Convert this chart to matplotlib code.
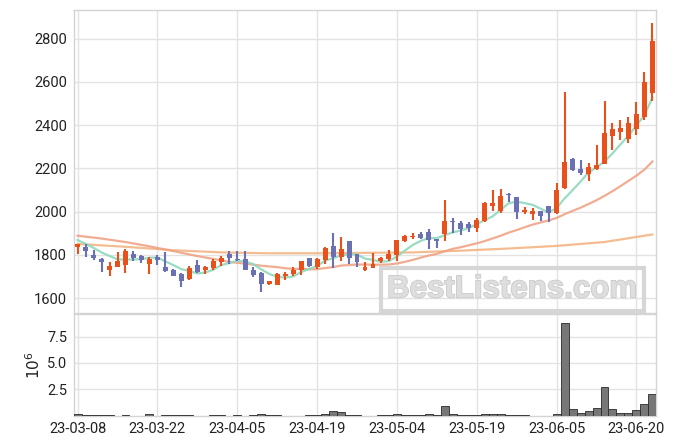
import matplotlib
matplotlib.use("Agg")
import matplotlib.pyplot as plt
import matplotlib.patheffects as pe
import numpy as np
import pandas as pd

# ---- data ----
opens = [1838, 1837, 1800, 1783, 1732, 1746, 1755, 1805, 1794, 1759,
         1792, 1745, 1731, 1712, 1691, 1754, 1732, 1742, 1769, 1805,
         1782, 1782, 1732, 1717, 1668, 1662, 1703, 1711, 1732, 1786,
         1746, 1778, 1842, 1790, 1865, 1803, 1731, 1740, 1772, 1782,
         1802, 1866, 1882, 1896, 1906, 1874, 1896, 1956, 1949, 1943,
         1926, 1958, 2028, 2003, 2083, 2068, 1999, 1988, 2003, 2026,
         1993, 2108, 2243, 2197, 2175, 2198, 2222, 2351, 2369, 2334,
         2383, 2438, 2549]
highs = [1853, 1850, 1823, 1788, 1769, 1815, 1828, 1818, 1800, 1792,
         1800, 1815, 1737, 1718, 1748, 1776, 1747, 1780, 1794, 1818,
         1818, 1818, 1743, 1720, 1682, 1716, 1722, 1743, 1773, 1788,
         1786, 1837, 1900, 1885, 1866, 1805, 1769, 1811, 1791, 1822,
         1870, 1892, 1900, 1905, 1922, 1876, 2054, 1969, 1955, 1953,
         1972, 2045, 2100, 2103, 2088, 2070, 2023, 2016, 2005, 2028,
         2131, 2551, 2248, 2237, 2223, 2306, 2511, 2411, 2426, 2438,
         2508, 2646, 2874]
lows = [1803, 1790, 1778, 1722, 1705, 1745, 1716, 1772, 1763, 1711,
        1754, 1723, 1703, 1654, 1685, 1718, 1711, 1731, 1749, 1759,
        1772, 1729, 1697, 1631, 1662, 1660, 1685, 1705, 1708, 1746,
        1734, 1760, 1739, 1774, 1757, 1743, 1728, 1738, 1762, 1772,
        1772, 1862, 1873, 1874, 1827, 1834, 1865, 1900, 1892, 1905,
        1908, 1954, 2003, 1992, 2043, 1965, 1988, 1960, 1956, 1954,
        1990, 2105, 2186, 2171, 2140, 2195, 2220, 2285, 2331, 2318,
        2354, 2426, 2511]
closes = [1851, 1820, 1788, 1769, 1749, 1772, 1818, 1788, 1776, 1783,
          1778, 1726, 1705, 1681, 1740, 1723, 1745, 1772, 1786, 1786,
          1778, 1730, 1707, 1668, 1680, 1711, 1712, 1732, 1772, 1749,
          1783, 1832, 1792, 1828, 1788, 1766, 1745, 1759, 1785, 1805,
          1869, 1886, 1888, 1880, 1869, 1866, 1957, 1951, 1922, 1926,
          1962, 2042, 2042, 2072, 2077, 1999, 2008, 2003, 1982, 1993,
          2100, 2229, 2194, 2180, 2206, 2216, 2363, 2382, 2388, 2409,
          2451, 2600, 2788]
volumes = [0.16, 0.06, 0.06, 0.06, 0.06, 0.0, 0.06, 0.0, 0.0, 0.16,
           0.0, 0.06, 0.06, 0.06, 0.06, 0.0, 0.0, 0.06, 0.06, 0.0,
           0.06, 0.0, 0.06, 0.16, 0.06, 0.06, 0.0, 0.0, 0.0, 0.06,
           0.06, 0.16, 0.38, 0.29, 0.06, 0.06, 0.0, 0.0, 0.06, 0.06,
           0.16, 0.06, 0.06, 0.06, 0.16, 0.06, 0.92, 0.16, 0.06, 0.06,
           0.06, 0.16, 0.16, 0.16, 0.06, 0.06, 0.06, 0.0, 0.0, 0.0,
           0.16, 8.76, 0.57, 0.25, 0.38, 0.73, 2.68, 0.57, 0.25, 0.25,
           0.48, 1.11, 2.07]
date_labels = ['23-03-08', '23-03-22', '23-04-05', '23-04-19',
               '23-05-04', '23-05-19', '23-06-05', '23-06-20']
# moving-average values before enough history exists
ma5_head = [1869, 1852, 1833, 1812]
ma20_head_idx = [0, 3, 6, 9, 12, 15, 18]
ma20_head = [1889, 1876, 1860, 1840, 1818, 1795, 1775]
# slow moving average line
ma_long_idx = [0, 6, 12, 18, 24, 30, 36, 42, 48, 54, 60, 66, 72]
ma_long = [1851, 1838, 1822, 1812, 1808, 1808, 1810, 1812, 1820, 1830,
           1842, 1860, 1895]

UP = '#e8501c'
DOWN = '#6b70b3'
GRID = '#e3e3e3'
SPINE = '#d4d4d4'

plt.rcParams['font.family'] = ['Roboto', 'DejaVu Sans']

n = len(closes)
x = np.arange(n)
o = np.array(opens, float); c = np.array(closes, float)
h = np.array(highs, float); l = np.array(lows, float)
up = c >= o

W, H = 675, 444
fig = plt.figure(figsize=(W / 100, H / 100), dpi=100)
ax = fig.add_axes([74 / W, (H - 313) / H, (656 - 74) / W, (313 - 10) / H])
axv = fig.add_axes([74 / W, (H - 415.5) / H, (656 - 74) / W, (415.5 - 314) / H], sharex=ax)

for a in (ax, axv):
    a.set_facecolor('white')
    a.grid(True, color=GRID, linewidth=1.0)
    a.set_axisbelow(True)
    for s in a.spines.values():
        s.set_color(SPINE)
        s.set_linewidth(1.0)
    a.tick_params(length=0, labelsize=10.5, colors='#222222', pad=5)

# moving averages
s = pd.Series(c)
ma5 = s.rolling(5).mean().to_numpy()
ma5[:4] = ma5_head
ma20 = s.rolling(20).mean()
ma20_x = list(ma20_head_idx) + list(range(19, n))
ma20_y = list(ma20_head) + list(ma20.iloc[19:])
ax.plot(ma_long_idx, ma_long, color='#f2b27e', lw=1.6, alpha=0.85, zorder=2)
ax.plot(ma20_x, ma20_y, color='#ef9f7f', lw=1.6, alpha=0.85, zorder=2)
ax.plot(x, ma5, color='#8fd9bd', lw=1.6, alpha=0.9, zorder=2)

# candles
colors = np.where(up, UP, DOWN)
ax.vlines(x, l, h, colors=colors, linewidth=1.5, zorder=3)
body_lo = np.minimum(o, c)
body_h = np.maximum(np.abs(c - o), 2.0)
ax.bar(x, body_h, bottom=body_lo, width=0.62, color=colors, linewidth=0, zorder=4)

ax.set_ylim(1532, 2932)
ax.set_yticks([1600, 1800, 2000, 2200, 2400, 2600, 2800])
ax.set_xlim(-0.45, n - 0.55)
ax.set_xticks(np.arange(0, n, 10))
plt.setp(ax.get_xticklabels(), visible=False)

# watermark
ax.text(0.753, 0.078, 'BestListens.com', transform=ax.transAxes,
        ha='center', va='center', fontsize=22.5, fontweight='bold',
        family='Liberation Sans', color='#dedede', zorder=5,
        path_effects=[pe.withStroke(linewidth=1.2, foreground='#cacaca')],
        bbox=dict(boxstyle='square,pad=0.2', facecolor='none',
                  edgecolor='#d6d6d6', linewidth=3))

# volume
axv.bar(x, volumes, width=1.0, color='#777777', edgecolor='#2a2a2a',
        linewidth=0.6, zorder=3)
axv.set_ylim(0, 9.64)
axv.set_yticks([2.5, 5.0, 7.5])
axv.set_yticklabels(['2.5', '5.0', '7.5'])
axv.set_xticks(np.arange(0, n, 10))
axv.set_xticklabels(date_labels)
axv.set_ylabel(r'$10^6$', family='DejaVu Sans', fontsize=11, color='#222222', labelpad=3)

fig.savefig('out.png', dpi=100)
